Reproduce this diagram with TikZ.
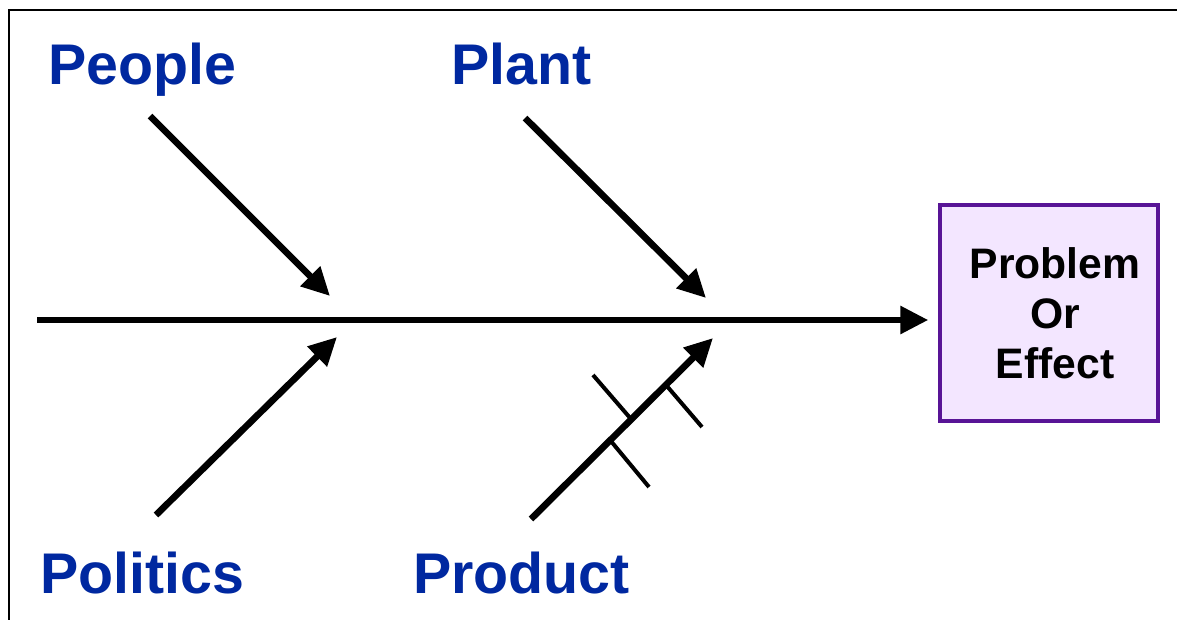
\documentclass[tikz,border=0pt]{standalone}
\usepackage{fontspec}
\setmainfont{Liberation Sans}
\usetikzlibrary{arrows.meta}
\definecolor{causeblue}{RGB}{0,40,160}
\definecolor{boxfill}{RGB}{243,230,255}
\definecolor{boxline}{RGB}{88,20,150}
\tikzstyle{category} = [
    anchor=base west,
    inner sep=0pt,
    text=causeblue,
    font=\fontsize{43}{50}\selectfont\bfseries
]
\tikzstyle{effect} = [
    rectangle,
    minimum width=163.5pt,
    minimum height=162pt,
    align=center,
    fill=boxfill,
    draw=boxline,
    line width=2.5pt,
    font=\fontsize{32}{37.5}\selectfont\bfseries
]
\tikzstyle{arrow} = [line width=5pt,-{Triangle[length=21pt,width=20pt]}]
\tikzstyle{subcause} = [line width=3pt]

\begin{document}
\begin{tikzpicture}[x=0.75pt,y=-0.75pt]

\useasboundingbox (0,0) rectangle (1177,619);
\clip (0,0) rectangle (1177,619);
\draw [line width=1.5pt] (9,10) rectangle (1200,640);

\node (people) [category] at (48,84) {People};
\node (plant) [category] at (451,84) {Plant};
\node (politics) [category] at (40,593) {Politics};
\node (product) [category] at (413,593) {Product};

\node (effect) [effect] at (1049,313) {\hspace*{9pt}Problem\\\hspace*{9pt}Or\\\hspace*{9pt}Effect};

\coordinate (tail) at (37,320);
\coordinate (peoplestart) at (150,116);
\coordinate (peopletip) at (330,296);
\coordinate (plantstart) at (525,118);
\coordinate (planttip) at (706,298);
\coordinate (politicsstart) at (156,515);
\coordinate (politicstip) at (337,337);
\coordinate (productstart) at (531,519);
\coordinate (producttip) at (713,338);

\draw [arrow] (tail) -- ([xshift=-7.5pt]tail -| effect.west);
\draw [arrow] (peoplestart) -- (peopletip);
\draw [arrow] (plantstart) -- (planttip);
\draw [arrow] (politicsstart) -- (politicstip);
\draw [arrow] (productstart) -- (producttip);

% small causes on the product bone
\draw [subcause] (631,419) -- (593,375);
\draw [subcause] (610,440) -- (649,487);
\draw [subcause] (666,385) -- (702,427);

\end{tikzpicture}
\end{document}
